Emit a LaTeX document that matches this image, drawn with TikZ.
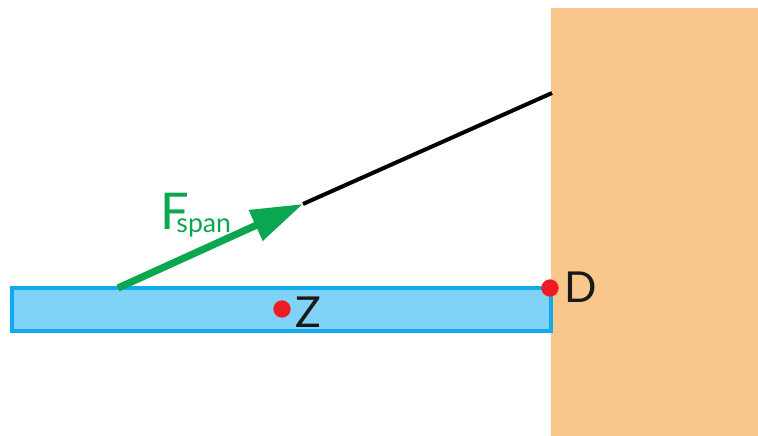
\documentclass[tikz,border=0pt]{standalone}
\usepackage{fontspec}
\setmainfont{Lato}
\usetikzlibrary{arrows.meta}
\definecolor{wallorange}{HTML}{F9C78B}
\definecolor{beamfill}{HTML}{80D3F7}
\definecolor{beamline}{HTML}{12A9EE}
\definecolor{spangreen}{HTML}{0BA650}
\definecolor{dotred}{HTML}{ED1C24}
\tikzset{every picture/.style={line width=0.75pt}}
\tikzset{dotnode/.style={circle,fill=dotred,inner sep=0pt,minimum size=13pt}}
\tikzset{pointlabel/.style={anchor=west,inner sep=0.75pt,font=\fontsize{32}{32}\selectfont,text=black!90}}

\begin{document}
\begin{tikzpicture}[x=0.75pt,y=0.75pt,yscale=-1,xscale=1]
    \path[use as bounding box] (0,0) rectangle (758,436);

    %Shape: Rectangle [id:wall]
    \fill [wallorange] (551,8) -- (758,8) -- (758,436) -- (551,436) -- cycle ;

    %Shape: Rectangle [id:beam]
    \draw [beamline,fill=beamfill,line width=2.7pt] (12,288) -- (551,288) -- (551,331) -- (12,331) -- cycle ;

    % Anchor points
    \coordinate (wallpoint) at (552,93);
    \coordinate (forcetip) at (303,204);
    \coordinate (forcestart) at (118,288);

    %Straight Lines [id:cable]
    \draw [line width=3pt] (wallpoint) -- (forcetip) ;
    %Straight Lines [id:force]
    \draw [spangreen,line width=5.4pt,-{Triangle[length=39pt,width=24pt]}] (forcestart) -- (forcetip) ;

    % Dots
    \node [dotnode] (dotD) at (550,288) {};
    \node [dotnode] (dotZ) at (282,309) {};

    % Text Node
    \draw (563,287) node [pointlabel] (labelD) {D};
    % Text Node
    \draw (294,312) node [pointlabel] (labelZ) {Z};
    % Text Node
    \draw (159,215) node [anchor=west,inner sep=0.75pt,text=spangreen] (labelF) {\fontsize{38}{38}\selectfont F\kern-9.5pt\raisebox{-2pt}{\fontsize{20}{20}\selectfont span}};
\end{tikzpicture}
\end{document}
